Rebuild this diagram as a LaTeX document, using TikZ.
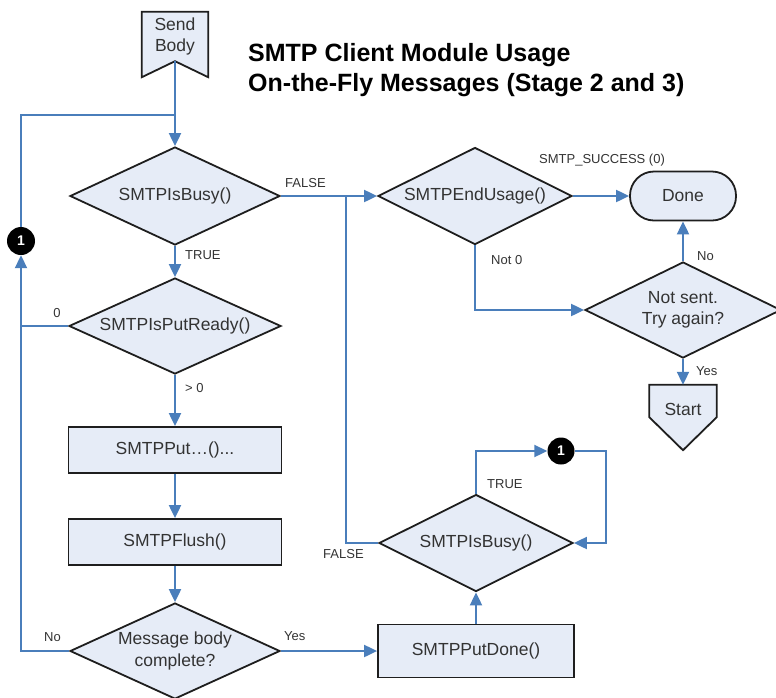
\documentclass[tikz,border=0pt]{standalone}
\usepackage{fontspec}
\setmainfont{Liberation Sans}
\usetikzlibrary{arrows.meta,shapes.geometric,backgrounds}
\definecolor{SMTPAzul}{HTML}{4A7EBB}
\definecolor{SMTPTexto}{HTML}{333333}
\definecolor{SMTPBorde}{HTML}{1E1E1E}
\definecolor{SMTPClaro}{HTML}{E6ECF7}

\begin{document}
\begin{tikzpicture}[x=1pt,y=-1pt,font=\fontsize{17.5}{21.5}\selectfont,>={Triangle[length=13pt,width=12pt]},
 caja/.style={draw=SMTPBorde,fill=SMTPClaro,text=SMTPTexto,line width=1.8pt,minimum width=213pt,minimum height=46pt,inner sep=0pt},
 decision/.style={caja,diamond,aspect=2,align=center},
 flujo/.style={SMTPAzul,line width=2pt},
 etiq/.style={font=\fontsize{13}{15}\selectfont,text=SMTPTexto,inner sep=0pt},
 conector/.style={circle,fill=black,text=white,font=\bfseries\fontsize{14}{16}\selectfont,minimum size=27pt,inner sep=0pt},
 forma/.style={draw=SMTPBorde,fill=SMTPClaro,line width=1.8pt,line join=miter}]
\useasboundingbox (0,0) rectangle (776,697);
\node[anchor=north west,align=left,inner sep=0pt,text=black,font=\bfseries\fontsize{25}{30}\selectfont] (titulo) at (248,43) {SMTP Client Module Usage\\On-the-Fly Messages (Stage 2 and 3)};
% columna izquierda
\node[text=SMTPTexto,align=center,minimum width=66pt,minimum height=49pt,inner sep=0pt] (send) at (175,36.5) {Send\\Body};
\node[decision,minimum width=210pt,minimum height=98pt] (busyA) at (175,196) {SMTPIsBusy()};
\node[decision,minimum width=212pt,minimum height=96pt] (ready) at (175,326) {SMTPIsPutReady()};
\node[caja] (put) at (175,450) {SMTPPut…()...};
\node[caja] (flush) at (175,542) {SMTPFlush()};
\node[decision,minimum width=210pt,minimum height=96pt] (msg) at (175,651) {Message body\\complete?};
\node[conector,minimum size=28pt] (conA) at (21,241) {1};
% columna central
\node[caja,minimum width=196pt,minimum height=53pt] (putdone) at (476,651) {SMTPPutDone()};
\node[decision,minimum width=194pt,minimum height=97pt] (busyB) at (476,543) {SMTPIsBusy()};
\node[conector] (conB) at (561,451) {1};
\node[decision,minimum width=194pt,minimum height=97pt] (endU) at (475,196) {SMTPEndUsage()};
% columna derecha
\node[caja,rounded corners=24pt,minimum width=106pt,minimum height=49pt] (done) at (683,196) {Done};
\node[decision,minimum width=196pt,minimum height=96pt] (retry) at (683,310) {Not sent.\\Try again?};
\node[text=SMTPTexto,minimum width=67pt,minimum height=48pt,inner sep=0pt] (start) at (683,409) {Start};
\begin{scope}[on background layer]
\path[forma] (send.north west) -- (send.north east) -- ([yshift=-16pt]send.south east) -- (send.south) -- ([yshift=-16pt]send.south west) -- cycle;
\path[forma] (start.north west) -- (start.north east) -- ([yshift=16pt]start.south east) -- ([yshift=-17pt]start.south) -- ([yshift=16pt]start.south west) -- cycle;
\end{scope}
\coordinate (union) at (175,115);
\coordinate (cruce) at (346,197);
\coordinate (lazo) at (606,451);
% conexiones
\draw[flujo,->] (send.south) -- (busyA.north);
\draw[flujo] (conA.north) |- (union);
\draw[flujo,->] (busyA.south) -- (ready.north);
\draw[flujo,->] (ready.south) -- (put.north);
\draw[flujo,->] (put.south) -- (flush.north);
\draw[flujo,->] (flush.south) -- (msg.north);
\draw[flujo,->] (msg.west) -| (conA.south);
\draw[flujo] (ready.west) -- (ready.west -| conA);
\draw[flujo,->] (msg.east) -- (putdone.west);
\draw[flujo,->] (putdone.north) -- (busyB.south);
\draw[flujo,->] (busyB.north) |- (conB.west);
\draw[flujo,->] (conB.east) -- (lazo) |- (busyB.east);
\draw[flujo] (busyB.west) -| (cruce);
\draw[flujo,->] (busyA.east) -- (endU.west);
\draw[flujo,->] (endU.east) -- (done.west);
\draw[flujo,->] (endU.south) |- (retry.west);
\draw[flujo,->] (retry.north) -- (done.south);
\draw[flujo,->] (retry.south) -- (start.north);
% etiquetas
\node[etiq,anchor=west] (eFalseA) at (285,183) {FALSE};
\node[etiq,anchor=west] (eTrueA) at (185,255) {TRUE};
\node[etiq] (eCero) at (57,313) {0};
\node[etiq,anchor=west] (eMayor) at (185,388) {> 0};
\node[etiq,anchor=west] (eNoA) at (44,637) {No};
\node[etiq,anchor=west] (eYesA) at (284,636) {Yes};
\node[etiq,anchor=west] (eFalseB) at (323,554) {FALSE};
\node[etiq,anchor=west] (eTrueB) at (487,484) {TRUE};
\node[etiq] (eExito) at (602,160) {SMTP\_SUCCESS (0)};
\node[etiq,anchor=west] (eNot) at (491,260) {Not 0};
\node[etiq,anchor=west] (eNoB) at (697,256) {No};
\node[etiq,anchor=west] (eYesB) at (696,371) {Yes};
\end{tikzpicture}
\end{document}
